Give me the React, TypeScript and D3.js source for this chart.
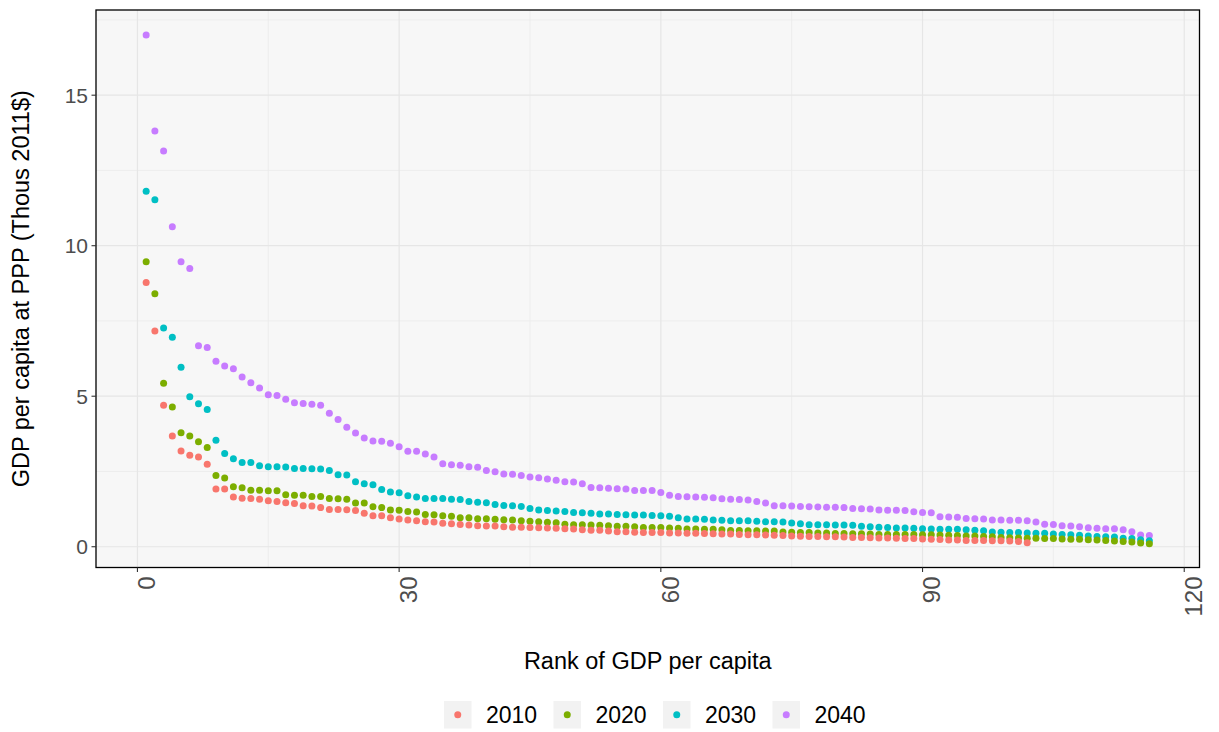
import React from "react";
import * as d3 from "d3";

const years = ["2010", "2020", "2030", "2040"];
const colors = ["#F8766D", "#7CAE00", "#00BFC4", "#C77CFF"];

const gdp2010 = [
  8.78, 7.17, 4.7, 3.68, 3.18, 3.04, 2.98, 2.74, 1.92, 1.92,
  1.65, 1.61, 1.6, 1.58, 1.53, 1.5, 1.46, 1.44, 1.36, 1.35,
  1.3, 1.24, 1.24, 1.23, 1.2, 1.11, 1.03, 1.03, 0.96, 0.92,
  0.89, 0.86, 0.83, 0.82, 0.78, 0.76, 0.74, 0.72, 0.7, 0.69,
  0.69, 0.66, 0.65, 0.65, 0.64, 0.63, 0.62, 0.61, 0.6, 0.59,
  0.56, 0.55, 0.55, 0.52, 0.5, 0.5, 0.48, 0.47, 0.47, 0.47,
  0.46, 0.46, 0.45, 0.45, 0.44, 0.43, 0.42, 0.42, 0.41, 0.4,
  0.4, 0.39, 0.38, 0.37, 0.36, 0.35, 0.34, 0.34, 0.33, 0.33,
  0.32, 0.31, 0.31, 0.3, 0.29, 0.29, 0.28, 0.27, 0.27, 0.26,
  0.25, 0.24, 0.22, 0.22, 0.21, 0.21, 0.21, 0.2, 0.2, 0.19,
  0.17, 0.13,
];

const gdp2020 = [
  9.47, 8.4, 5.43, 4.64, 3.79, 3.68, 3.49, 3.3, 2.37, 2.28,
  1.99, 1.96, 1.88, 1.88, 1.86, 1.86, 1.73, 1.71, 1.71, 1.67,
  1.67, 1.6, 1.59, 1.58, 1.45, 1.45, 1.33, 1.3, 1.22, 1.21,
  1.17, 1.15, 1.07, 1.06, 1.03, 1.01, 0.96, 0.96, 0.93, 0.93,
  0.91, 0.9, 0.89, 0.86, 0.85, 0.83, 0.81, 0.8, 0.75, 0.73,
  0.73, 0.72, 0.71, 0.7, 0.68, 0.68, 0.66, 0.64, 0.64, 0.64,
  0.62, 0.61, 0.59, 0.59, 0.58, 0.58, 0.56, 0.54, 0.54, 0.53,
  0.53, 0.52, 0.52, 0.49, 0.48, 0.47, 0.47, 0.46, 0.46, 0.44,
  0.44, 0.43, 0.43, 0.42, 0.41, 0.41, 0.41, 0.41, 0.41, 0.4,
  0.4, 0.39, 0.38, 0.37, 0.36, 0.36, 0.34, 0.33, 0.31, 0.3,
  0.29, 0.28, 0.28, 0.27, 0.27, 0.26, 0.25, 0.25, 0.23, 0.22,
  0.21, 0.19, 0.17, 0.16, 0.12, 0.1,
];

const gdp2030 = [
  11.81, 11.53, 7.27, 6.96, 5.96, 4.98, 4.75, 4.56, 3.54, 3.1,
  2.92, 2.8, 2.8, 2.69, 2.66, 2.66, 2.65, 2.6, 2.6, 2.59,
  2.58, 2.53, 2.39, 2.38, 2.16, 2.09, 2.06, 1.9, 1.82, 1.79,
  1.69, 1.65, 1.6, 1.6, 1.6, 1.58, 1.57, 1.5, 1.48, 1.46,
  1.4, 1.37, 1.36, 1.34, 1.27, 1.22, 1.2, 1.19, 1.17, 1.14,
  1.13, 1.11, 1.09, 1.09, 1.07, 1.06, 1.05, 1.05, 1.04, 1.03,
  1.01, 0.96, 0.92, 0.92, 0.91, 0.89, 0.88, 0.86, 0.86, 0.86,
  0.85, 0.83, 0.83, 0.82, 0.79, 0.76, 0.73, 0.73, 0.73, 0.72,
  0.72, 0.71, 0.68, 0.66, 0.65, 0.64, 0.62, 0.62, 0.61, 0.6,
  0.59, 0.58, 0.58, 0.58, 0.56, 0.55, 0.53, 0.49, 0.48, 0.47,
  0.47, 0.46, 0.45, 0.45, 0.42, 0.41, 0.4, 0.38, 0.36, 0.34,
  0.33, 0.32, 0.28, 0.27, 0.23, 0.2,
];

const gdp2040 = [
  17.0, 13.81, 13.15, 10.63, 9.47, 9.24, 6.68, 6.62, 6.16, 6.0,
  5.91, 5.64, 5.45, 5.27, 5.05, 5.02, 4.9, 4.78, 4.76, 4.73,
  4.7, 4.43, 4.23, 3.97, 3.78, 3.61, 3.51, 3.5, 3.44, 3.32,
  3.17, 3.17, 3.08, 2.98, 2.76, 2.72, 2.71, 2.66, 2.64, 2.53,
  2.49, 2.42, 2.41, 2.37, 2.32, 2.29, 2.25, 2.21, 2.16, 2.15,
  2.09, 1.97, 1.96, 1.94, 1.93, 1.92, 1.87, 1.87, 1.87, 1.8,
  1.71, 1.67, 1.66, 1.65, 1.64, 1.63, 1.59, 1.58, 1.57, 1.55,
  1.5, 1.45, 1.36, 1.36, 1.35, 1.34, 1.33, 1.32, 1.31, 1.31,
  1.3, 1.27, 1.26, 1.25, 1.22, 1.21, 1.21, 1.2, 1.16, 1.14,
  1.13, 1.0, 0.99, 0.98, 0.94, 0.93, 0.92, 0.89, 0.89, 0.88,
  0.88, 0.86, 0.82, 0.75, 0.74, 0.7, 0.69, 0.66, 0.63, 0.61,
  0.6, 0.6, 0.56, 0.5, 0.39, 0.37,
];

const seriesValues = [gdp2010, gdp2020, gdp2030, gdp2040];

const xTicks = [0, 30, 60, 90, 120];
const xMinor = [15, 45, 75, 105];
const yTicks = [0, 5, 10, 15];
const yMinor = [2.5, 7.5, 12.5, 17.5];

const xTitle = "Rank of GDP per capita";
const yTitle = "GDP per capita at PPP (Thous 2011$)";

const W = 1219;
const H = 732;
const panel = { left: 96, right: 1199.5, top: 10, bottom: 567.5 };
const FONT = "'Liberation Sans', Arial, Helvetica, sans-serif";

export default function App() {
  const x = d3.scaleLinear().domain([-4.75, 121.75]).range([panel.left, panel.right]);
  const y = d3.scaleLinear().domain([-0.69, 17.83]).range([panel.bottom, panel.top]);

  const drawOrder = [3, 2, 1, 0];

  const legendStart = 444;
  const legendStep = 109.5;
  const legendY = 701;

  return (
    <svg
      width={W}
      height={H}
      style={{ position: "absolute", left: 0, top: 0, display: "block", background: "#fff" }}
      fontFamily={FONT}
    >
      <rect x={0} y={0} width={W} height={H} fill="#fff" />
      <rect
        x={panel.left}
        y={panel.top}
        width={panel.right - panel.left}
        height={panel.bottom - panel.top}
        fill="#F7F7F7"
      />
      {xMinor.map((t) => (
        <line key={"xm" + t} x1={x(t)} x2={x(t)} y1={panel.top} y2={panel.bottom} stroke="#EBEBEB" strokeWidth={0.8} />
      ))}
      {yMinor.map((t) => (
        <line key={"ym" + t} x1={panel.left} x2={panel.right} y1={y(t)} y2={y(t)} stroke="#EBEBEB" strokeWidth={0.8} />
      ))}
      {xTicks.map((t) => (
        <line key={"xg" + t} x1={x(t)} x2={x(t)} y1={panel.top} y2={panel.bottom} stroke="#E6E6E6" strokeWidth={1.2} />
      ))}
      {yTicks.map((t) => (
        <line key={"yg" + t} x1={panel.left} x2={panel.right} y1={y(t)} y2={y(t)} stroke="#E6E6E6" strokeWidth={1.2} />
      ))}

      {drawOrder.map((si) => (
        <g key={"s" + si} fill={colors[si]}>
          {seriesValues[si].map((v, i) => (
            <circle key={i} cx={x(i + 1)} cy={y(v)} r={3.5} />
          ))}
        </g>
      ))}

      <rect
        x={panel.left}
        y={panel.top}
        width={panel.right - panel.left}
        height={panel.bottom - panel.top}
        fill="none"
        stroke="#000"
        strokeWidth={1.3}
      />

      {yTicks.map((t) => (
        <g key={"yt" + t}>
          <line x1={panel.left - 4.5} x2={panel.left} y1={y(t)} y2={y(t)} stroke="#333" strokeWidth={1.1} />
          <text x={panel.left - 8} y={y(t)} dy="0.36em" textAnchor="end" fontSize={21} fill="#4D4D4D">
            {t}
          </text>
        </g>
      ))}

      {xTicks.map((t) => (
        <g key={"xt" + t}>
          <line x1={x(t)} x2={x(t)} y1={panel.bottom} y2={panel.bottom + 4.5} stroke="#333" strokeWidth={1.1} />
          <text
            transform={`translate(${x(t)},${panel.bottom + 9}) rotate(-90)`}
            dy="0.74em"
            textAnchor="end"
            fontSize={24}
            fill="#4D4D4D"
          >
            {t}
          </text>
        </g>
      ))}

      <text x={(panel.left + panel.right) / 2} y={669} textAnchor="middle" fontSize={23.5} fill="#000">
        {xTitle}
      </text>
      <text
        transform={`translate(29,${(panel.top + panel.bottom) / 2}) rotate(-90)`}
        textAnchor="middle"
        fontSize={23.5}
        fill="#000"
      >
        {yTitle}
      </text>

      {years.map((yr, i) => {
        const kx = legendStart + i * legendStep;
        return (
          <g key={"lg" + yr}>
            <rect x={kx} y={legendY} width={27.5} height={27.5} fill="#F2F2F2" />
            <circle cx={kx + 13.75} cy={legendY + 13.75} r={3.5} fill={colors[i]} />
            <text x={kx + 42} y={legendY + 22} fontSize={23} fill="#000">
              {yr}
            </text>
          </g>
        );
      })}
    </svg>
  );
}
